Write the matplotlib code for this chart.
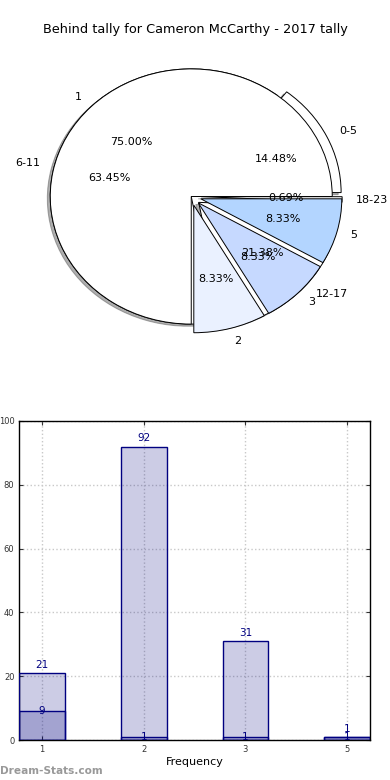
import matplotlib
matplotlib.use("Agg")
import matplotlib.pyplot as plt
import numpy as np

title = "Behind tally for Cameron McCarthy - 2017 tally"

# Pie 1: tally ranges
range_labels = ["0-5", "6-11", "12-17", "18-23"]
range_counts = [21, 92, 31, 1]
range_explode = [0.07, 0.0, 0.07, 0.07]

# Pie 2: frequency
freq_labels = ["1", "2", "3", "5"]
freq_counts = [9, 1, 1, 1]
freq_explode = [0.0, 0.07, 0.07, 0.07]
freq_colors = ["#ffffff", "#eaf1ff", "#c6d9ff", "#b3d5ff"]

# Bars
bar_ticks = ["1", "2", "3", "5"]
bar_total = [21, 92, 31, 1]
bar_sub = [9, 1, 1, 1]

fig = plt.figure(figsize=(3.9, 7.8), dpi=100)

# ---------------- pie ----------------
ax1 = fig.add_axes([15/390, 1 - 356/780, 352.5/390, 319/780])
wp = dict(edgecolor="black", linewidth=0.7)
ax1.pie(range_counts, labels=range_labels, explode=range_explode,
        colors=["white"]*4, autopct="%1.2f%%",
        shadow=dict(ox=-0.015, oy=-0.012, alpha=0.45),
        wedgeprops=dict(wp, zorder=1), textprops=dict(fontsize=8))
ax1.pie(freq_counts, labels=freq_labels, explode=freq_explode,
        colors=freq_colors, autopct="%1.2f%%", shadow=False,
        wedgeprops=dict(wp, zorder=2), textprops=dict(fontsize=8, zorder=5))
ax1.set_aspect("auto")
ax1.set_xlim(-1.25, 1.25)
ax1.set_ylim(-1.25, 1.25)
fig.text(0.5, 1 - 30/780, title, ha="center", va="center", fontsize=9.3)

# ---------------- bars ----------------
ax2 = fig.add_axes([19.3/390, 40/780, 350.7/390, 319/780])
x = np.arange(len(bar_ticks))
w = 0.45
ax2.bar(x, bar_total, width=w, color="#000080", alpha=0.2, zorder=2)
ax2.bar(x, bar_total, width=w, facecolor="none", edgecolor="#000080", linewidth=1.0, zorder=3)
ax2.bar(x, bar_sub, width=w, color="#000080", alpha=0.2, zorder=2)
ax2.bar(x, bar_sub, width=w, facecolor="none", edgecolor="#000080", linewidth=1.0, zorder=3)
for xi, v in zip(x, bar_total):
    ax2.text(xi, v + 1.0, str(v), ha="center", va="bottom", color="#000080", fontsize=7.5, zorder=4)
for xi, v in zip(x, bar_sub):
    ax2.text(xi, v, str(v), ha="center", va="center", color="#000080", fontsize=7.5, zorder=4)
ax2.set_xlim(-w/2, len(x) - 1 + w/2)
ax2.set_ylim(0, 100)
ax2.set_yticks(range(0, 101, 20))
ax2.set_xticks(x)
ax2.set_xticklabels(bar_ticks)
ax2.tick_params(axis="both", direction="in", length=3, labelsize=6, colors="#333333",
                top=True, right=True)
ax2.grid(True, linestyle=":", color="#c8c8c8", linewidth=1.0, zorder=1)
ax2.set_axisbelow(True)
ax2.set_xlabel("Frequency", fontsize=8, labelpad=2)
for s in ax2.spines.values():
    s.set_linewidth(1.0)

fig.text(0.0, 1 - 771/780, "Dream-Stats.com", ha="left", va="center",
         fontsize=7.6, color="#999999", fontweight="bold")

fig.savefig("out.png", dpi=100)
